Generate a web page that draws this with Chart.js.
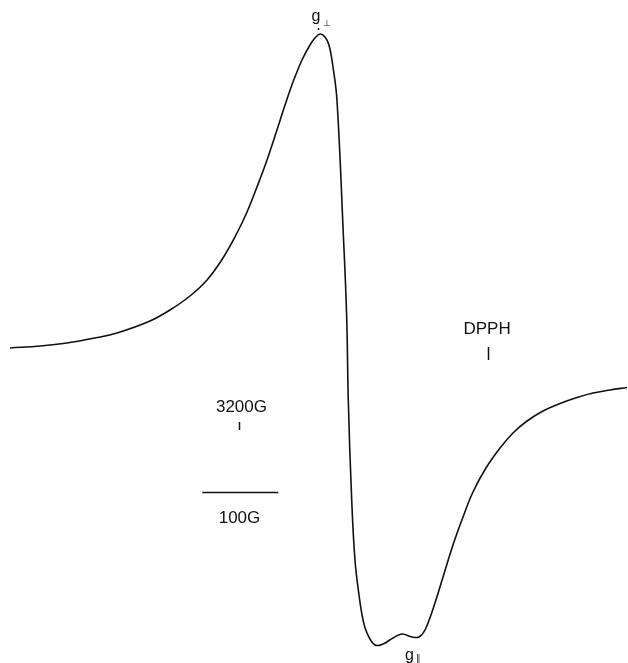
<!DOCTYPE html>
<html>
<head>
<meta charset="utf-8">
<script src="https://cdn.jsdelivr.net/npm/chart.js@4/dist/chart.umd.min.js"></script>
<style>
  body { margin: 0; background: #fff; }
  #wrap { width: 628px; height: 663px; position: relative; }
</style>
</head>
<body>
<div id="wrap"><canvas id="epr"></canvas></div>
<script>
// magnetic field (G) and derivative signal (arb. units)
const field = [
  2899.2, 2938.6, 2974.1, 3011.0, 3039.9, 3083.3, 3109.6, 3135.9, 3158.3, 3179.3,
  3197.7, 3210.9, 3224.0, 3237.2, 3250.3, 3260.9, 3271.4, 3283.2, 3293.7, 3300.3,
  3306.9, 3313.5, 3318.7, 3324.0, 3329.2, 3337.5, 3342.0, 3344.1, 3348.6, 3352.9,
  3358.2, 3363.5, 3368.7, 3379.2, 3389.7, 3402.9, 3414.7, 3427.9, 3437.1, 3445.0,
  3454.2, 3468.7, 3481.8, 3495.0, 3508.1, 3525.2, 3543.7, 3560.7, 3579.2, 3600.2,
  3622.6, 3644.9, 3666.0, 3688.3, 3710.7
];
const signal = [
  0, 2, 5, 10, 15, 27, 38, 52, 68, 90,
  115, 136, 161, 188, 218, 243, 266, 288, 303, 310,
  314, 311, 303, 281, 248, 115, 31, -52, -152, -212,
  -247, -272, -285, -297, -296, -290, -286, -289, -289, -282,
  -264, -229, -197, -169, -144, -120, -100, -85, -73, -63,
  -55.5, -49.5, -45, -42, -39.5
];

// reference markers (field in G)
const fieldMarker = 3200;
const dpphField = 3528;
const scaleBar = [3152, 3252];

const points = field.map((x, i) => ({ x: x, y: signal[i] }));

const FONT = '"Liberation Sans", Arial, sans-serif';

const annotate = {
  id: "annotate",
  afterDatasetsDraw(chart) {
    const ctx = chart.ctx;
    const xs = chart.scales.x, ys = chart.scales.y;
    const px = (v) => xs.getPixelForValue(v);
    const py = (v) => ys.getPixelForValue(v);
    ctx.save();
    ctx.fillStyle = "#111";
    ctx.strokeStyle = "#111";
    ctx.textAlign = "center";
    ctx.textBaseline = "alphabetic";

    const vline = (x, y1, y2) => {
      ctx.lineWidth = 1.5;
      ctx.beginPath();
      ctx.moveTo(Math.round(px(x)) + 0.5, py(y1));
      ctx.lineTo(Math.round(px(x)) + 0.5, py(y2));
      ctx.stroke();
    };

    // 3200G marker
    ctx.font = "17px " + FONT;
    ctx.fillText("3200G", px(3203.6), py(-64));
    vline(fieldMarker, -74, -82);

    // 100 G scale bar
    ctx.lineWidth = 1.5;
    ctx.beginPath();
    ctx.moveTo(px(scaleBar[0]), py(-144.5));
    ctx.lineTo(px(scaleBar[1]), py(-144.5));
    ctx.stroke();
    ctx.fillText("100G", px(3201), py(-175));

    // DPPH marker
    ctx.fillText("DPPH", px(3526.6), py(14));
    vline(dpphField, 1, -12);

    // g perpendicular
    ctx.font = "16px " + FONT;
    ctx.fillText("g", px(3301.6), py(327));
    ctx.font = "9px " + FONT;
    ctx.fillText("\u22A5", px(3316), py(322));
    vline(3304, 320, 318);

    // g parallel
    ctx.font = "16px " + FONT;
    ctx.fillText("g", px(3424.6), py(-312));
    ctx.font = "9px " + FONT;
    ctx.fillText("\u2225", px(3436), py(-313));
    ctx.restore();
  }
};

new Chart(document.getElementById("epr"), {
  type: "line",
  data: {
    datasets: [
      {
        label: "EPR",
        data: points,
        borderColor: "#111",
        borderWidth: 1.6,
        pointRadius: 0,
        fill: false,
        tension: 0.4,
      },
    ],
  },
  options: {
    responsive: true,
    maintainAspectRatio: false,
    animation: false,
    layout: { padding: 0 },
    plugins: { legend: { display: false }, tooltip: { enabled: false } },
    scales: {
      x: { type: "linear", min: 2886, max: 3712, display: false },
      y: { min: -315, max: 348, display: false },
    },
  },
  plugins: [annotate],
});
</script>
</body>
</html>
